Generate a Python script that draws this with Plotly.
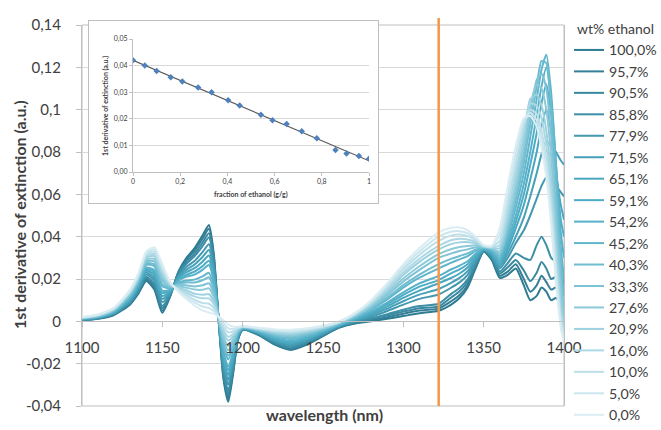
import numpy as np
import plotly.graph_objects as go

# ---------------------------------------------------------------- data
wavelength_nm = [1100, 1110, 1120, 1130, 1135, 1140, 1145, 1150, 1155, 1160,
                 1165, 1170, 1175, 1179, 1182, 1185, 1188, 1191, 1194, 1197,
                 1200, 1210, 1220, 1230, 1240, 1250, 1260, 1270, 1280, 1290,
                 1300, 1310, 1322, 1330, 1335, 1340, 1345, 1350, 1355, 1360,
                 1365, 1370, 1375, 1379, 1383, 1386, 1389, 1392, 1395, 1398, 1400]

wt_pct = [100.0, 95.7, 90.5, 85.8, 77.9, 71.5, 65.1, 59.1, 54.2,
          45.2, 40.3, 33.3, 27.6, 20.9, 16.0, 10.0, 5.0, 0.0]
wt_pct_labels = ["100,0%", "95,7%", "90,5%", "85,8%", "77,9%", "71,5%",
                 "65,1%", "59,1%", "54,2%", "45,2%", "40,3%", "33,3%",
                 "27,6%", "20,9%", "16,0%", "10,0%", "5,0%", "0,0%"]

# first derivative of extinction (a.u.) for every ethanol content
deriv_100_0 = [.0005, .0012, .0030, .0080, .0130, .0190, .0150, .0040, .0120, .0235,
               .0300, .0345, .0405, .0455, .0320, .0010, -.0270, -.0380, -.0250, -.0090,
               -.0040, -.0065, -.0110, -.0135, -.0110, -.0070, -.0030, -.0010, .0000, .0012,
               .0025, .0038, .0050, .0080, .0110, .0160, .0250, .0330, .0290, .0205,
               .0220, .0250, .0170, .0100, .0120, .0160, .0140, .0100, .0110, .0080, .0040]
deriv_95_7 = [.0006, .0013, .0032, .0083, .0134, .0196, .0159, .0050, .0123, .0231,
              .0292, .0333, .0390, .0437, .0308, .0011, -.0258, -.0364, -.0240, -.0087,
              -.0039, -.0064, -.0107, -.0131, -.0107, -.0068, -.0029, -.0008, .0004, .0019,
              .0036, .0051, .0060, .0096, .0124, .0172, .0256, .0331, .0295, .0215,
              .0235, .0270, .0200, .0140, .0170, .0215, .0185, .0150, .0160, .0120, .0080]
deriv_90_5 = [.0006, .0014, .0033, .0087, .0139, .0203, .0169, .0062, .0126, .0226,
              .0282, .0319, .0372, .0416, .0293, .0011, -.0244, -.0345, -.0229, -.0084,
              -.0038, -.0062, -.0103, -.0126, -.0103, -.0065, -.0027, -.0005, .0010, .0028,
              .0046, .0062, .0070, .0114, .0142, .0186, .0264, .0333, .0300, .0225,
              .0255, .0290, .0240, .0190, .0230, .0280, .0250, .0200, .0210, .0170, .0120]
deriv_85_8 = [.0007, .0015, .0035, .0090, .0144, .0210, .0178, .0073, .0129, .0222,
              .0272, .0307, .0355, .0396, .0280, .0012, -.0231, -.0328, -.0218, -.0081,
              -.0037, -.0060, -.0100, -.0122, -.0099, -.0063, -.0026, -.0003, .0014, .0034,
              .0055, .0072, .0083, .0131, .0157, .0198, .0271, .0334, .0305, .0235,
              .0275, .0320, .0300, .0290, .0360, .0400, .0360, .0300, .0280, .0230, .0170]
deriv_77_9 = [.0008, .0016, .0038, .0095, .0151, .0221, .0194, .0091, .0134, .0214,
              .0257, .0285, .0327, .0364, .0257, .0013, -.0209, -.0299, -.0200, -.0076,
              -.0036, -.0057, -.0094, -.0114, -.0093, -.0059, -.0023, .0001, .0022, .0049,
              .0079, .0106, .0127, .0160, .0184, .0220, .0283, .0337, .0310, .0250,
              .0300, .0370, .0430, .0500, .0580, .0640, .0680, .0660, .0640, .0610, .0590]
deriv_71_5 = [.0009, .0018, .0040, .0100, .0157, .0230, .0207, .0106, .0139, .0208,
              .0244, .0268, .0304, .0337, .0239, .0013, -.0192, -.0276, -.0186, -.0072,
              -.0035, -.0055, -.0090, -.0108, -.0088, -.0056, -.0021, .0004, .0029, .0060,
              .0095, .0126, .0153, .0183, .0205, .0237, .0293, .0339, .0315, .0260,
              .0320, .0400, .0490, .0590, .0700, .0790, .0850, .0830, .0800, .0760, .0740]
deriv_65_1 = [.0010, .0019, .0042, .0104, .0163, .0239, .0220, .0120, .0143, .0202,
              .0232, .0251, .0282, .0311, .0221, .0014, -.0174, -.0253, -.0171, -.0067,
              -.0034, -.0053, -.0085, -.0102, -.0083, -.0053, -.0020, .0007, .0035, .0071,
              .0111, .0145, .0180, .0206, .0226, .0254, .0302, .0340, .0320, .0270,
              .0340, .0440, .0550, .0670, .0800, .0920, .1000, .0900, .0700, .0550, .0480]
deriv_59_1 = [.0011, .0020, .0044, .0109, .0169, .0247, .0232, .0134, .0147, .0196,
              .0220, .0235, .0261, .0286, .0203, .0015, -.0158, -.0231, -.0158, -.0063,
              -.0033, -.0051, -.0081, -.0096, -.0079, -.0050, -.0018, .0010, .0041, .0081,
              .0125, .0164, .0195, .0228, .0246, .0270, .0311, .0342, .0325, .0280,
              .0360, .0470, .0600, .0740, .0890, .1030, .1120, .0980, .0720, .0480, .0400]
deriv_54_2 = [.0012, .0021, .0046, .0112, .0174, .0254, .0242, .0145, .0150, .0192,
              .0211, .0221, .0243, .0266, .0190, .0016, -.0144, -.0213, -.0147, -.0060,
              -.0032, -.0049, -.0077, -.0092, -.0075, -.0047, -.0016, .0013, .0046, .0089,
              .0137, .0179, .0215, .0246, .0263, .0284, .0319, .0344, .0330, .0290,
              .0380, .0500, .0650, .0800, .0970, .1110, .1200, .1040, .0750, .0420, .0300]
deriv_45_2 = [.0013, .0023, .0049, .0118, .0182, .0267, .0260, .0166, .0156, .0183,
              .0193, .0197, .0212, .0229, .0164, .0017, -.0119, -.0180, -.0127, -.0054,
              -.0030, -.0046, -.0071, -.0083, -.0068, -.0043, -.0014, .0017, .0055, .0104,
              .0159, .0206, .0250, .0278, .0293, .0308, .0332, .0346, .0335, .0300,
              .0400, .0540, .0700, .0870, .1050, .1190, .1260, .1080, .0740, .0350, .0200]
deriv_40_3 = [.0014, .0024, .0051, .0122, .0187, .0274, .0269, .0177, .0159, .0178,
              .0184, .0184, .0194, .0208, .0150, .0017, -.0106, -.0162, -.0116, -.0051,
              -.0029, -.0044, -.0067, -.0078, -.0064, -.0040, -.0012, .0020, .0060, .0112,
              .0171, .0221, .0270, .0296, .0309, .0321, .0340, .0348, .0340, .0310,
              .0420, .0570, .0750, .0930, .1110, .1230, .1220, .1000, .0650, .0280, .0120]
deriv_33_3 = [.0015, .0025, .0053, .0127, .0193, .0283, .0283, .0193, .0163, .0172,
              .0170, .0165, .0170, .0180, .0130, .0018, -.0087, -.0137, -.0100, -.0047,
              -.0028, -.0042, -.0062, -.0072, -.0059, -.0037, -.0010, .0023, .0067, .0124,
              .0188, .0243, .0300, .0321, .0332, .0340, .0350, .0350, .0342, .0320,
              .0440, .0600, .0790, .0980, .1140, .1170, .1100, .0880, .0540, .0200, .0060]
deriv_27_6 = [.0016, .0026, .0055, .0131, .0199, .0291, .0295, .0207, .0167, .0166,
              .0159, .0150, .0149, .0156, .0114, .0019, -.0071, -.0116, -.0087, -.0043,
              -.0027, -.0040, -.0058, -.0066, -.0054, -.0034, -.0008, .0026, .0072, .0134,
              .0202, .0260, .0318, .0342, .0351, .0356, .0359, .0352, .0345, .0330,
              .0460, .0630, .0830, .1020, .1120, .1100, .1000, .0780, .0450, .0140, .0020]
deriv_20_9 = [.0017, .0028, .0058, .0135, .0205, .0301, .0308, .0222, .0171, .0160,
              .0146, .0131, .0126, .0128, .0095, .0019, -.0053, -.0091, -.0072, -.0039,
              -.0026, -.0037, -.0053, -.0060, -.0049, -.0030, -.0006, .0030, .0079, .0145,
              .0219, .0281, .0340, .0366, .0373, .0374, .0369, .0354, .0348, .0345,
              .0490, .0670, .0870, .1050, .1070, .1020, .0900, .0680, .0370, .0080, -.0020]
deriv_16_0 = [.0018, .0029, .0059, .0139, .0210, .0308, .0318, .0233, .0175, .0155,
              .0136, .0118, .0109, .0108, .0081, .0020, -.0039, -.0073, -.0061, -.0035,
              -.0025, -.0036, -.0050, -.0055, -.0045, -.0028, -.0005, .0032, .0084, .0153,
              .0231, .0296, .0356, .0384, .0390, .0387, .0376, .0355, .0350, .0360,
              .0520, .0710, .0900, .1030, .1020, .0960, .0830, .0610, .0310, .0040, -.0040]
deriv_10_0 = [.0019, .0030, .0062, .0143, .0216, .0316, .0330, .0247, .0179, .0150,
              .0125, .0102, .0087, .0083, .0064, .0021, -.0023, -.0052, -.0048, -.0032,
              -.0024, -.0034, -.0045, -.0050, -.0041, -.0025, -.0003, .0035, .0090, .0163,
              .0246, .0314, .0380, .0406, .0410, .0403, .0385, .0357, .0352, .0380,
              .0560, .0750, .0930, .1000, .0980, .0900, .0760, .0550, .0260, .0010, -.0060]
deriv_5_0 = [.0019, .0031, .0063, .0146, .0220, .0323, .0340, .0259, .0182, .0145,
             .0115, .0089, .0070, .0063, .0049, .0021, -.0009, -.0033, -.0036, -.0028,
             -.0023, -.0032, -.0042, -.0045, -.0037, -.0023, -.0002, .0038, .0095, .0172,
             .0258, .0330, .0400, .0424, .0426, .0417, .0393, .0359, .0355, .0410,
             .0600, .0790, .0950, .0985, .0950, .0860, .0720, .0500, .0220, -.0010, -.0080]
deriv_0_0 = [.0020, .0032, .0065, .0150, .0225, .0330, .0350, .0270, .0185, .0140,
             .0105, .0075, .0052, .0042, .0035, .0022, .0005, -.0015, -.0025, -.0025,
             -.0022, -.0030, -.0038, -.0040, -.0033, -.0020, .0000, .0040, .0100, .0180,
             .0270, .0345, .0420, .0442, .0443, .0430, .0400, .0360, .0358, .0440,
             .0640, .0830, .0960, .0970, .0920, .0820, .0680, .0460, .0180, -.0030, -.0100]

spectra = [deriv_100_0, deriv_95_7, deriv_90_5, deriv_85_8, deriv_77_9, deriv_71_5,
           deriv_65_1, deriv_59_1, deriv_54_2, deriv_45_2, deriv_40_3, deriv_33_3,
           deriv_27_6, deriv_20_9, deriv_16_0, deriv_10_0, deriv_5_0, deriv_0_0]

# calibration wavelength and the derivative read there (inset)
selected_wavelength_nm = 1322
deriv_at_selected = [0.0050, 0.0060, 0.0070, 0.0083, 0.0127, 0.0153, 0.0180, 0.0195, 0.0215,
                     0.0250, 0.0270, 0.0300, 0.0318, 0.0340, 0.0356, 0.0380, 0.0400, 0.0420]

# ticks
y_ticks = [-0.04, -0.02, 0.0, 0.02, 0.04, 0.06, 0.08, 0.10, 0.12, 0.14]
y_tick_text = ["-0,04", "-0,02", "0", "0,02", "0,04", "0,06", "0,08", "0,1", "0,12", "0,14"]
x_ticks = [1100, 1150, 1200, 1250, 1300, 1350, 1400]
inset_x_ticks = [0, 0.2, 0.4, 0.6, 0.8, 1.0]
inset_x_text = ["0", "0,2", "0,4", "0,6", "0,8", "1"]
inset_y_ticks = [0, 0.01, 0.02, 0.03, 0.04, 0.05]
inset_y_text = ["0,00", "0,01", "0,02", "0,03", "0,04", "0,05"]

# ---------------------------------------------------------------- style
FONT = "Lato"
TXT = "#404040"
GRID = "#D9D9D9"
AXLINE = "#BFBFBF"
line_colors = ["#2E7C92", "#337F96", "#3888A0", "#3D8FA7", "#4398AF", "#46A0B8",
               "#4AA7BF", "#4EADC6", "#56B1C9", "#61B6CC", "#6EBCD0", "#7DC3D5",
               "#8CCADA", "#9CD1DF", "#ABD8E4", "#BCDFE9", "#CBE6EE", "#D9EDF3"]

W, H = 661, 430
ML, MR, MT, MB = 82, 97, 20, 24
PW, PH = W - ML - MR, H - MT - MB


def px_x(px):
    return (px - ML) / PW


def px_y(py):
    return (H - MB - py) / PH


y_min, y_max = -0.04, 0.14
main_top = px_y(25)
zero_pos = main_top * (0 - y_min) / (y_max - y_min)

fig = go.Figure()

for vals, label, color in zip(spectra, wt_pct_labels, line_colors):
    fig.add_trace(go.Scatter(
        x=wavelength_nm, y=vals, mode="lines", name=label,
        line=dict(color=color, width=2, shape="spline", smoothing=0.6),
        xaxis="x", yaxis="y"))

# empty trace so the white inset frame gets its own subplot
fig.add_trace(go.Scatter(x=[], y=[], mode="lines", showlegend=False,
                         xaxis="x2", yaxis="y2", hoverinfo="skip"))

# inset: derivative at the selected wavelength vs ethanol fraction
fraction = np.array(wt_pct) / 100.0
slope, intercept = np.polyfit(fraction, deriv_at_selected, 1)
fit_x = np.array([0.0, 1.0])
fig.add_trace(go.Scatter(
    x=fit_x, y=intercept + slope * fit_x, mode="lines",
    line=dict(color="#595959", width=1.2), showlegend=False,
    xaxis="x3", yaxis="y3", hoverinfo="skip"))
fig.add_trace(go.Scatter(
    x=fraction, y=deriv_at_selected, mode="markers",
    marker=dict(symbol="diamond", size=5, color="#4F81BD"),
    showlegend=False, xaxis="x3", yaxis="y3"))

# frame around the main plotting area
fig.add_shape(type="rect", xref="x domain", yref="y domain",
              x0=0, x1=1, y0=0, y1=1, line=dict(color=AXLINE, width=1),
              fillcolor="rgba(0,0,0,0)", layer="below")

# selected wavelength marker line
fig.add_shape(type="line", xref="x", yref="paper",
              x0=selected_wavelength_nm, x1=selected_wavelength_nm,
              y0=0, y1=px_y(18), line=dict(color="#F79646", width=2.5), layer="above")

tick_font = dict(family=FONT, size=15, color=TXT)
small_font = dict(family=FONT, size=7, color=TXT)

fig.update_layout(
    width=W, height=H,
    margin=dict(l=ML, r=MR, t=MT, b=MB, autoexpand=False),
    paper_bgcolor="white", plot_bgcolor="white",
    font=dict(family=FONT, color=TXT),
    xaxis=dict(domain=[0, 1], range=[1100, 1400], anchor="free", position=zero_pos,
               showgrid=False, zeroline=False, showline=True, linecolor=AXLINE,
               ticks="outside", ticklen=5, tickcolor=AXLINE,
               tickvals=x_ticks, ticktext=[str(v) for v in x_ticks],
               tickfont=tick_font, ticklabelstandoff=8),
    yaxis=dict(domain=[0, main_top], range=[y_min, y_max], anchor="x",
               showgrid=True, gridcolor=GRID, zeroline=False,
               showline=True, mirror=True, linecolor=AXLINE,
               ticks="outside", ticklen=5, tickcolor=AXLINE,
               tickvals=y_ticks, ticktext=y_tick_text,
               tickfont=tick_font, ticklabelstandoff=12),
    # white frame that holds the inset
    xaxis2=dict(domain=[px_x(89), px_x(378)], anchor="y2", range=[0, 1],
                showgrid=False, zeroline=False, showticklabels=False, ticks="",
                showline=True, mirror=True, linecolor=AXLINE),
    yaxis2=dict(domain=[px_y(203), px_y(21)], anchor="x2", range=[0, 1],
                showgrid=False, zeroline=False, showticklabels=False, ticks="",
                showline=True, mirror=True, linecolor=AXLINE),
    # inset axes
    xaxis3=dict(domain=[px_x(133), px_x(369)], anchor="y3", range=[0, 1],
                showgrid=False, zeroline=False, showline=True, linecolor=AXLINE,
                ticks="outside", ticklen=3, tickcolor=AXLINE,
                tickvals=inset_x_ticks, ticktext=inset_x_text, tickfont=small_font),
    yaxis3=dict(domain=[px_y(172), px_y(39)], anchor="x3", range=[0, 0.05],
                showgrid=True, gridcolor=GRID, zeroline=False,
                showline=True, linecolor=AXLINE,
                ticks="outside", ticklen=3, tickcolor=AXLINE,
                tickvals=inset_y_ticks, ticktext=inset_y_text, tickfont=small_font),
    legend=dict(x=px_x(569), xanchor="left", y=px_y(16), yanchor="top",
                font=dict(family=FONT, size=14.2, color=TXT),
                title=dict(text="wt% ethanol", side="top center",
                           font=dict(family=FONT, size=14, color=TXT)),
                traceorder="normal", maxheight=430,
                bgcolor="rgba(0,0,0,0)", itemwidth=30),
    showlegend=True,
)

bold = dict(family=FONT, size=16, color=TXT, weight="bold")
fig.add_annotation(text="1st derivative of extinction (a.u.)", textangle=-90,
                   xref="paper", yref="paper", x=px_x(19), y=px_y(215),
                   xanchor="center", yanchor="middle", showarrow=False, font=bold)
fig.add_annotation(text="wavelength (nm)", xref="paper", yref="paper",
                   x=px_x(324), y=px_y(414), xanchor="center", yanchor="middle",
                   showarrow=False, font=dict(family=FONT, size=16, color=TXT, weight="bold"))
small_bold = dict(family=FONT, size=7, color=TXT, weight="bold")
fig.add_annotation(text="1st derivative of extinction (a.u.)", textangle=-90,
                   xref="paper", yref="paper", x=px_x(105), y=px_y(106),
                   xanchor="center", yanchor="middle", showarrow=False, font=small_bold)
fig.add_annotation(text="fraction of ethanol (g/g)", xref="paper", yref="paper",
                   x=px_x(251), y=px_y(194), xanchor="center", yanchor="middle",
                   showarrow=False, font=small_bold)

fig.write_html("out.html")
